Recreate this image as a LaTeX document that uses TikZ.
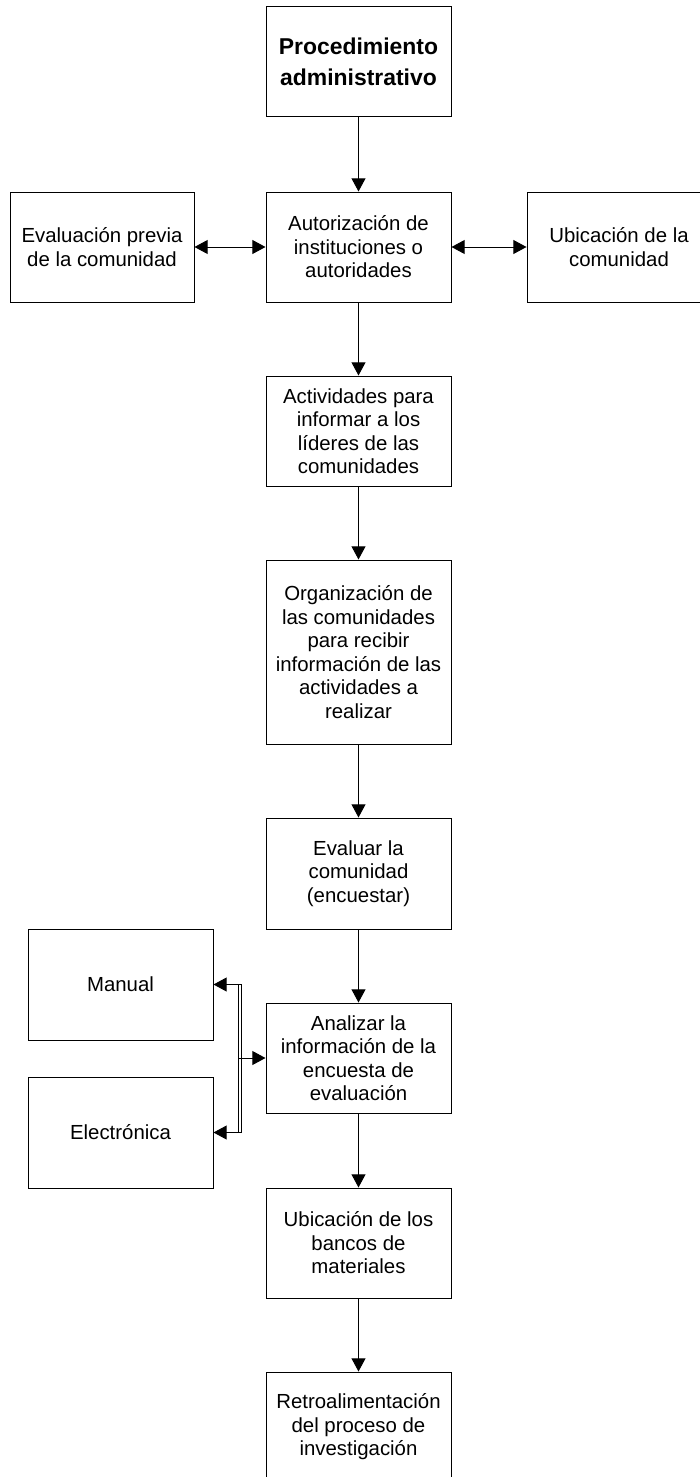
\documentclass[tikz,border=0pt]{standalone}
\usepackage{fontspec}
\setmainfont{Liberation Sans}
\usetikzlibrary{arrows.meta}

\tikzset{
    caja/.style={draw, line width=0.7pt, minimum width=4.625cm, minimum height=2.75cm,
        align=center, inner sep=2pt, font=\fontsize{14.5}{16.7}\selectfont},
    flecha/.style={line width=0.7pt, -{Triangle[length=0.33cm,width=0.35cm]}},
    dobleflecha/.style={line width=0.7pt, {Triangle[length=0.33cm,width=0.35cm]}-{Triangle[length=0.33cm,width=0.35cm]}}
}

\begin{document}
\begin{tikzpicture}

    % --- Frame of the page ---
    % 1 cm = 40 px of the original sheet (700 x 1477 px)
    \useasboundingbox (0,0) rectangle (17.5,-36.925);
    \clip (0,0) rectangle (17.5,-36.925);

    % --- Main column ---
    \node[caja, font=\fontsize{16.3}{22}\selectfont\bfseries] (proc) at (8.9625,-1.5375) {Procedimiento\\administrativo};
    \node[caja] (aut) at (8.9625,-6.175) {Autorización de\\instituciones o\\autoridades};
    \node[caja] (act) at (8.9625,-10.775) {Actividades para\\informar a los\\líderes de las\\comunidades};
    \node[caja, minimum height=4.6cm] (org) at (8.9625,-16.3) {Organización de\\las comunidades\\para recibir\\información de las\\actividades a\\realizar};
    \node[caja, minimum height=2.775cm] (eval) at (8.9625,-21.8375) {Evaluar la\\comunidad\\(encuestar)};
    \node[caja] (anal) at (8.9625,-26.45) {Analizar la\\información de la\\encuesta de\\evaluación};
    \node[caja] (ubic) at (8.9625,-31.075) {Ubicación de los\\bancos de\\materiales};
    \node[caja] (retro) at (8.9625,-35.675) {Retroalimentación\\del proceso de\\investigación};

    % --- Side boxes ---
    \node[caja, minimum width=4.6cm] (evalprev) at (2.55,-6.175) {Evaluación previa\\de la comunidad};
    \node[caja, minimum width=4.6cm] (ubicom) at (15.475,-6.175) {Ubicación de la\\comunidad};
    \node[caja, minimum height=2.775cm] (manual) at (3.0125,-24.6125) {Manual};
    \node[caja, minimum height=2.775cm] (electr) at (3.0125,-28.3125) {Electrónica};

    % --- Arrows down the column ---
    \draw[flecha] (proc) -- (aut);
    \draw[flecha] (aut) -- (act);
    \draw[flecha] (act) -- (org);
    \draw[flecha] (org) -- (eval);
    \draw[flecha] (eval) -- (anal);
    \draw[flecha] (anal) -- (ubic);
    \draw[flecha] (ubic) -- (retro);

    % --- Arrows to both sides ---
    \draw[dobleflecha] (evalprev) -- (aut);
    \draw[dobleflecha] (aut) -- (ubicom);

    % --- Connector Manual / Electronica ---
    % two close vertical lines, as in the original elbow connectors
    \coordinate (ext) at (6.025,-26.45);
    \coordinate (int) at (5.95,-26.45);
    \draw[flecha] (ext |- electr.east) |- (manual.east);
    \draw[flecha] (ext |- manual.east) |- (electr.east);
    \draw[line width=0.7pt] (int |- manual.east) -- (int |- electr.east);
    \draw[flecha] (int) -- (anal.west);

\end{tikzpicture}
\end{document}
